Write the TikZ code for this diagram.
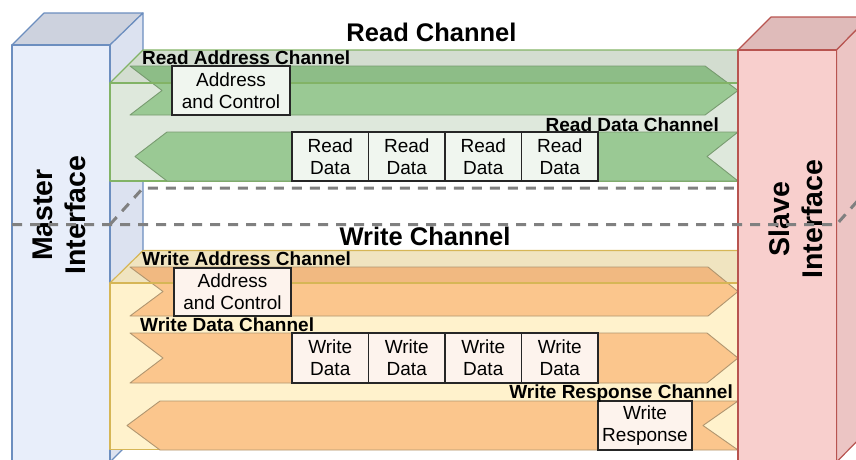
\documentclass[tikz,border=0pt]{standalone}
\usepackage{fontspec}
\setmainfont{Liberation Sans}

% interface blocks
\definecolor{mfront}{RGB}{232,238,250}
\definecolor{mside}{RGB}{220,226,240}
\definecolor{mtop}{RGB}{205,210,222}
\definecolor{mline}{RGB}{108,142,191}
\definecolor{sfront}{RGB}{248,207,205}
\definecolor{sside}{RGB}{236,197,196}
\definecolor{stop}{RGB}{223,187,186}
\definecolor{sline}{RGB}{184,84,80}
% read channel
\definecolor{gfront}{RGB}{222,232,220}
\definecolor{gtop}{RGB}{211,221,208}
\definecolor{gline}{RGB}{130,179,102}
\definecolor{garrow}{RGB}{154,201,148}
\definecolor{gstrip}{RGB}{141,189,135}
\definecolor{garrowline}{RGB}{120,155,112}
\definecolor{gbox}{RGB}{240,246,239}
% write channel
\definecolor{yfront}{RGB}{255,242,204}
\definecolor{ytop}{RGB}{240,228,192}
\definecolor{yline}{RGB}{214,182,86}
\definecolor{oarrow}{RGB}{251,198,141}
\definecolor{ostrip}{RGB}{241,185,129}
\definecolor{oarrowline}{RGB}{176,150,112}
\definecolor{obox}{RGB}{253,243,237}
\definecolor{dashgray}{RGB}{128,128,128}

\begin{document}
\begin{tikzpicture}[x=1pt,y=-1pt,
  face/.style={line width=1.2pt, line join=round},
  arrowsty/.style={line width=0.9pt, line join=round},
  msgbox/.style={draw=black!85, line width=1.3pt, inner sep=0pt, align=center,
    font=\fontsize{19}{22}\selectfont},
  chanlabel/.style={font=\bfseries\fontsize{19}{22}\selectfont, inner sep=0pt},
  titlelabel/.style={font=\bfseries\fontsize{25.5}{30}\selectfont, inner sep=0pt},
  iflabel/.style={font=\bfseries\fontsize{28.5}{33}\selectfont, inner sep=0pt,
    align=center, rotate=90},
  plane/.style={draw=dashgray, line width=3pt, dash pattern=on 10pt off 8pt}]

\useasboundingbox (0,0) rectangle (856,459);
\clip (0,0) rectangle (856,459);

% ---------- master interface block ----------
\filldraw[face, draw=mline, fill=mtop] (12,45) -- (44,13) -- (143,13) -- (110,45) -- cycle;
\filldraw[face, draw=mline, fill=mside] (110,45) -- (143,13) -- (143,429) -- (110,462) -- cycle;
\filldraw[face, draw=mline, fill=mfront] (12,45) rectangle (110,462);

% ---------- read channel ----------
\filldraw[face, draw=gline, fill=gfront] (110,83) rectangle (738,181);
\filldraw[face, draw=gline, fill=gtop] (110,83) -- (143,50) -- (771,50) -- (738,83) -- cycle;

% read address arrow
\fill[garrow] (130,66) -- (705,66) -- (738,90.5) -- (705,115) -- (130,115) -- (162,90.5) -- cycle;
\begin{scope}
  \clip (110,83) -- (143,50) -- (771,50) -- (738,83) -- cycle;
  \fill[gstrip] (130,66) -- (705,66) -- (738,90.5) -- (705,115) -- (130,115) -- (162,90.5) -- cycle;
\end{scope}
\draw[arrowsty, draw=garrowline] (130,66) -- (705,66) -- (738,90.5) -- (705,115) -- (130,115) -- (162,90.5) -- cycle;
\draw[face, draw=gline] (110,83) -- (738,83);

% read data arrow
\filldraw[arrowsty, draw=garrowline, fill=garrow] (167,132) -- (738,132) -- (707,156.5) -- (738,181) -- (167,181) -- (135,156.5) -- cycle;

\node[msgbox, fill=gbox, minimum width=118, minimum height=49] (rac) at (231,90.5) {Address\\and Control};
\node[msgbox, fill=gbox, minimum width=76.5, minimum height=49] (rd1) at (330.25,156.5) {Read\\Data};
\node[msgbox, fill=gbox, minimum width=76.5, minimum height=49] (rd2) at (406.75,156.5) {Read\\Data};
\node[msgbox, fill=gbox, minimum width=76.5, minimum height=49] (rd3) at (483.25,156.5) {Read\\Data};
\node[msgbox, fill=gbox, minimum width=76.5, minimum height=49] (rd4) at (559.75,156.5) {Read\\Data};

\node[chanlabel, anchor=base west] (ralbl) at (142,64) {Read Address Channel};
\node[chanlabel, anchor=base east] (rdlbl) at (719,131) {Read Data Channel};
\node[titlelabel, anchor=base] (rtitle) at (431.5,41.5) {Read Channel};

% back edge of the separating plane
\draw[plane] (110,224.5) -- (143,188) -- (738,188);

% ---------- write channel ----------
\filldraw[face, draw=yline, fill=yfront] (110,283) rectangle (738,449.5);
\filldraw[face, draw=yline, fill=ytop] (110,283) -- (143,250.5) -- (771,250.5) -- (738,283) -- cycle;

% write address arrow
\fill[oarrow] (130,267) -- (708,267) -- (738,291.5) -- (708,316) -- (130,316) -- (163,291.5) -- cycle;
\begin{scope}
  \clip (110,283) -- (143,250.5) -- (771,250.5) -- (738,283) -- cycle;
  \fill[ostrip] (130,267) -- (708,267) -- (738,291.5) -- (708,316) -- (130,316) -- (163,291.5) -- cycle;
\end{scope}
\draw[arrowsty, draw=oarrowline] (130,267) -- (708,267) -- (738,291.5) -- (708,316) -- (130,316) -- (163,291.5) -- cycle;
\draw[face, draw=yline] (110,283) -- (738,283);

% write data arrow
\filldraw[arrowsty, draw=oarrowline, fill=oarrow] (130,333) -- (707,333) -- (738,358) -- (707,383) -- (130,383) -- (163,358) -- cycle;
% write response arrow
\filldraw[arrowsty, draw=oarrowline, fill=oarrow] (160,401) -- (738,401) -- (703,425.5) -- (738,450) -- (160,450) -- (127,425.5) -- cycle;

\node[msgbox, fill=obox, minimum width=117, minimum height=48] (wac) at (232.5,292) {Address\\and Control};
\node[msgbox, fill=obox, minimum width=76.5, minimum height=50] (wd1) at (330.25,358) {Write\\Data};
\node[msgbox, fill=obox, minimum width=76.5, minimum height=50] (wd2) at (406.75,358) {Write\\Data};
\node[msgbox, fill=obox, minimum width=76.5, minimum height=50] (wd3) at (483.25,358) {Write\\Data};
\node[msgbox, fill=obox, minimum width=76.5, minimum height=50] (wd4) at (559.75,358) {Write\\Data};
\node[msgbox, fill=obox, minimum width=94, minimum height=49] (wr) at (645,425.5) {Write\\Response};

\node[chanlabel, anchor=base west] (walbl) at (142,265.5) {Write Address Channel};
\node[chanlabel, anchor=base west] (wdlbl) at (140,331.5) {Write Data Channel};
\node[chanlabel, anchor=base east] (wrlbl) at (733,398) {Write Response Channel};
\node[titlelabel, anchor=base] (wtitle) at (425,245) {Write Channel};

% ---------- slave interface block ----------
\filldraw[face, draw=sline, fill=stop] (738,50) -- (771,17) -- (869,17) -- (836.5,50) -- cycle;
\filldraw[face, draw=sline, fill=sside] (836.5,50) -- (869,17) -- (869,429) -- (836.5,462) -- cycle;
\filldraw[face, draw=sline, fill=sfront] (738,50) rectangle (836.5,462);

\node[iflabel] (master) at (59.5,215) {Master\\Interface};
\node[iflabel] (slave) at (796,219) {Slave\\Interface};

% front edge of the separating plane
\draw[plane] (12,224.5) -- (836.5,224.5) -- (869,188);

\end{tikzpicture}
\end{document}
